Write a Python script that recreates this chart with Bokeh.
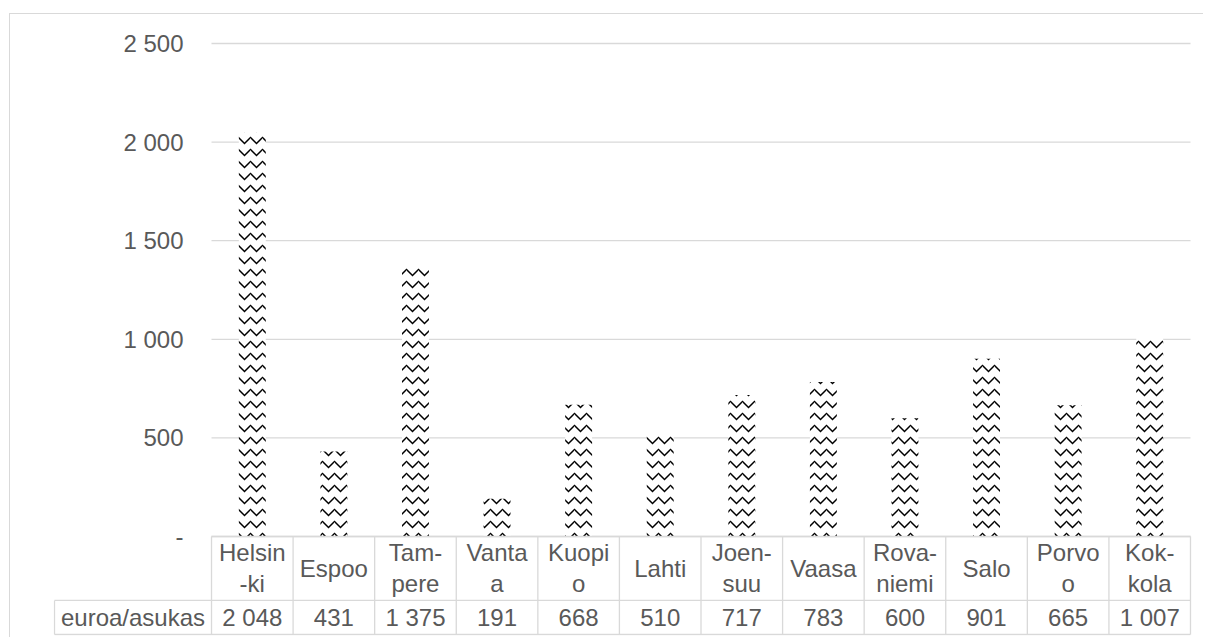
from bokeh.plotting import figure
from bokeh.models import Range1d, ColumnDataSource
from bokeh.core.properties import value
from bokeh.embed import file_html
from bokeh.resources import INLINE

# ---- data ----
categories = ["Helsin\n-ki", "Espoo", "Tam-\npere", "Vanta\na", "Kuopi\no", "Lahti",
              "Joen-\nsuu", "Vaasa", "Rova-\nniemi", "Salo", "Porvo\no", "Kok-\nkola"]
values = [2048, 431, 1375, 191, 668, 510, 717, 783, 600, 901, 665, 1007]
y_ticks = [0, 500, 1000, 1500, 2000, 2500]
y_tick_labels = ["-", "500", "1 000", "1 500", "2 000", "2 500"]
row_label = "euroa/asukas"

value_labels = [f"{v:,}".replace(",", " ") for v in values]
n = len(categories)
xs = list(range(n))

FONT = "Liberation Sans"
FSIZE = "24px"
TCOL = "#595959"
GRID = "#d9d9d9"

# layout helpers (data units)
COL_PX = 81.58                      # pixels per category
PX_PER_UNIT = 0.1972                # vertical pixels per euro
header_w = 157 / COL_PX             # width of the row-header cell
x_left = -0.5 - header_w            # left edge of row-header cell
x_right = n - 0.5
label_x = -0.5 - 28 / COL_PX        # right edge of y tick labels
row1_bottom = -324
row2_bottom = -497
row1_mid = -162
row2_mid = -411

p = figure(width=1194, height=624, output_backend="svg", toolbar_location=None,
           x_range=Range1d(x_left - 1 / COL_PX, n - 0.5 + 2 / COL_PX),
           y_range=Range1d(-502, 2500 + 18 / PX_PER_UNIT),
           x_axis_location=None, y_axis_location=None, tools="",
           min_border_left=43, min_border_right=12, min_border_top=11, min_border_bottom=3)
p.margin = (13, 0, 0, 9)
p.styles = {"border-left": "1px solid #d9d9d9", "border-top": "1px solid #d9d9d9"}
p.outline_line_color = None
p.grid.visible = False
p.background_fill_color = "white"
p.border_fill_color = "white"

# value gridlines
p.segment(x0=[-0.5] * len(y_ticks), x1=[x_right] * len(y_ticks), y0=y_ticks, y1=y_ticks,
          line_color=GRID, line_width=1.3)
# value axis labels
p.text(x=[label_x] * len(y_ticks), y=y_ticks, text=y_tick_labels, text_align="right",
       text_baseline="middle", text_font=value(FONT), text_font_size=FSIZE, text_color=TCOL)

# bars
src = ColumnDataSource(dict(x=xs, top=values, cat=categories, lab=value_labels))
p.vbar(x="x", top="top", bottom=0, width=0.33, source=src,
       fill_color="white", line_color=None,
       hatch_pattern="horizontal_wave", hatch_color="black",
       hatch_scale=12, hatch_weight=1.5)

# data table lines
p.segment(x0=[-0.5, x_left, x_left], x1=[x_right] * 3, y0=[0, row1_bottom, row2_bottom],
          y1=[0, row1_bottom, row2_bottom], line_color=GRID, line_width=1.3)
p.segment(x0=[i - 0.5 for i in range(n + 1)], x1=[i - 0.5 for i in range(n + 1)],
          y0=[0] * (n + 1), y1=[row2_bottom] * (n + 1), line_color=GRID, line_width=1.3)
p.segment(x0=[x_left], x1=[x_left], y0=[row1_bottom], y1=[row2_bottom],
          line_color=GRID, line_width=1.3)

# data table texts
p.text(x="x", y=row1_mid, text="cat", source=src, text_align="center",
       text_baseline="middle", text_font=value(FONT), text_font_size=FSIZE,
       text_color=TCOL, text_line_height=1.15)
p.text(x="x", y=row2_mid, text="lab", source=src, text_align="center",
       text_baseline="middle", text_font=value(FONT), text_font_size=FSIZE,
       text_color=TCOL)
p.text(x=[(x_left - 0.5) / 2], y=[row2_mid], text=[row_label], text_align="center",
       text_baseline="middle", text_font=value(FONT), text_font_size=FSIZE, text_color=TCOL)

open("out.html", "w").write(file_html(p, INLINE))
